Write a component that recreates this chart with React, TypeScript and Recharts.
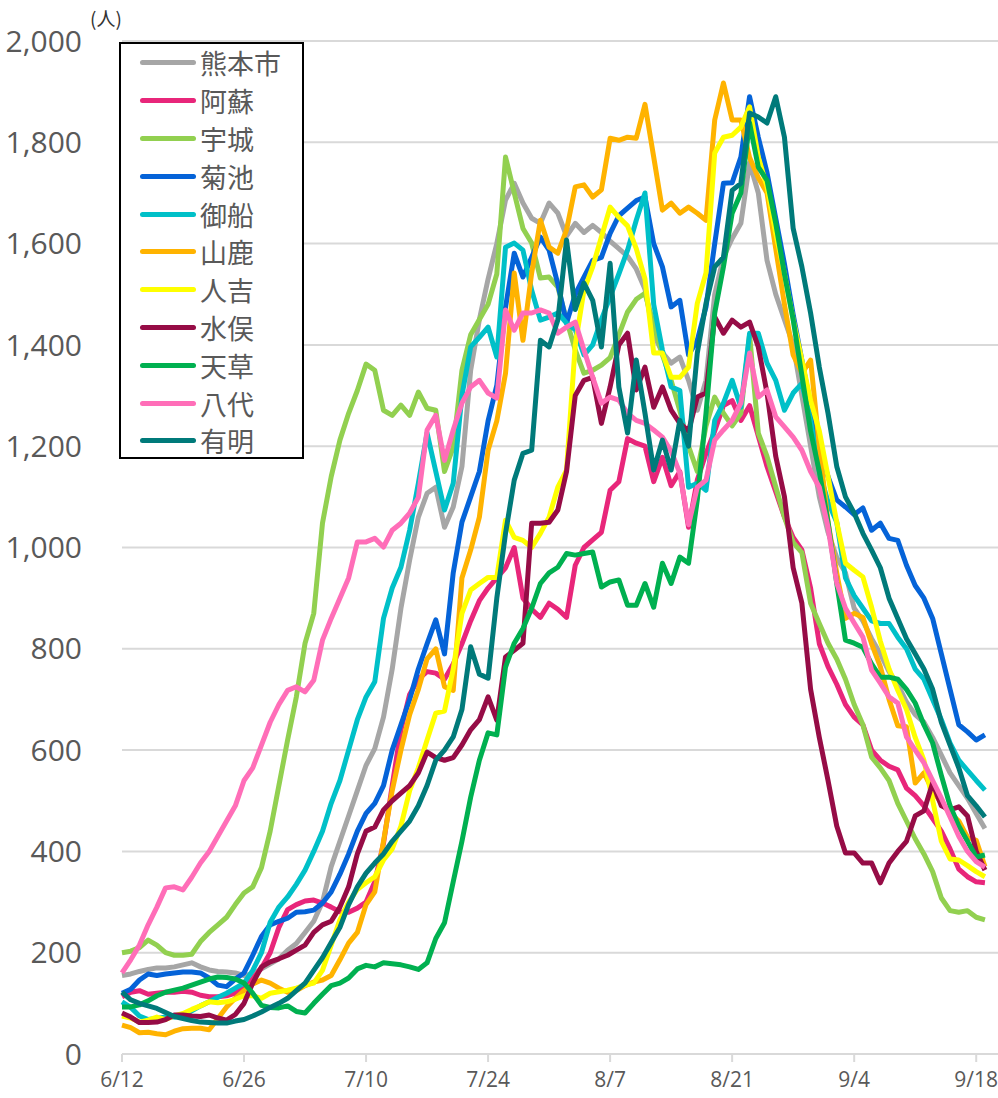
import React from 'react';
import { LineChart, Line, XAxis, YAxis, CartesianGrid } from 'recharts';

// 6/12 .. 9/19, one value per day (index 0 = 6/12)
const tickDays = [0, 14, 28, 42, 56, 70, 84, 98];
const tickLabels = ['6/12', '6/26', '7/10', '7/24', '8/7', '8/21', '9/4', '9/18'];
const yTicks = [0, 200, 400, 600, 800, 1000, 1200, 1400, 1600, 1800, 2000];

const kumamoto = [155, 158, 163, 167, 170, 170, 172, 176, 180, 172, 166, 163, 162, 160, 155, 158, 168, 178, 188, 205, 218, 240, 262, 300, 370, 420, 470, 520, 570, 603, 665, 760, 880, 975, 1060, 1107, 1119, 1040, 1080, 1160, 1350, 1450, 1530, 1600, 1686, 1719, 1680, 1650, 1640, 1680, 1660, 1615, 1640, 1622, 1636, 1622, 1605, 1590, 1575, 1550, 1510, 1420, 1385, 1364, 1376, 1330, 1271, 1330, 1500, 1573, 1610, 1640, 1760, 1700, 1567, 1500, 1450, 1400, 1300, 1200, 1100, 1030, 980, 950, 880, 855, 820, 790, 755, 730, 695, 670, 655, 625, 590, 555, 530, 505, 475, 445];
const aso = [113, 122, 125, 118, 120, 122, 122, 124, 122, 116, 113, 113, 115, 120, 130, 148, 170, 200, 250, 285, 295, 302, 304, 298, 290, 281, 280, 288, 300, 340, 416, 530, 640, 710, 740, 755, 752, 740, 770, 810, 855, 895, 920, 940, 960, 1000, 900, 878, 862, 890, 878, 862, 965, 1000, 1015, 1030, 1113, 1130, 1215, 1206, 1200, 1130, 1178, 1122, 1150, 1040, 1133, 1186, 1230, 1280, 1290, 1251, 1280, 1220, 1160, 1110, 1060, 1020, 995, 920, 810, 765, 730, 690, 665, 650, 600, 580, 568, 561, 525, 510, 490, 465, 440, 405, 365, 350, 340, 338];
const uki = [200, 203, 210, 225, 215, 200, 195, 195, 197, 222, 240, 255, 270, 295, 318, 330, 368, 440, 530, 620, 705, 811, 870, 1048, 1140, 1212, 1265, 1310, 1362, 1350, 1271, 1261, 1281, 1261, 1307, 1275, 1271, 1150, 1198, 1350, 1420, 1450, 1480, 1540, 1771, 1700, 1630, 1601, 1532, 1534, 1514, 1449, 1390, 1344, 1350, 1360, 1375, 1420, 1465, 1490, 1502, 1440, 1380, 1330, 1270, 1200, 1150, 1240, 1297, 1265, 1240, 1265, 1420, 1226, 1180, 1120, 1060, 1010, 990, 890, 850, 811, 780, 740, 690, 650, 586, 565, 540, 495, 460, 425, 395, 360, 308, 283, 280, 283, 270, 265];
const kikuchi = [120, 128, 146, 158, 155, 158, 160, 162, 162, 160, 150, 136, 133, 148, 160, 195, 232, 255, 262, 268, 280, 281, 284, 298, 320, 355, 395, 440, 475, 495, 530, 600, 650, 700, 760, 810, 857, 790, 950, 1050, 1100, 1150, 1250, 1320, 1474, 1581, 1534, 1573, 1613, 1587, 1520, 1443, 1500, 1534, 1567, 1573, 1620, 1655, 1670, 1685, 1692, 1600, 1554, 1475, 1488, 1380, 1409, 1475, 1600, 1719, 1720, 1771, 1890, 1810, 1740, 1650, 1560, 1460, 1370, 1280, 1200, 1140, 1094, 1080, 1065, 1078, 1034, 1048, 1018, 1014, 965, 925, 900, 860, 790, 720, 650, 636, 620, 630];
const mifune = [103, 92, 75, 68, 70, 73, 73, 78, 85, 95, 103, 112, 120, 130, 140, 165, 200, 260, 290, 310, 335, 363, 400, 440, 495, 540, 600, 660, 705, 735, 860, 920, 961, 1034, 1127, 1226, 1150, 1074, 1127, 1300, 1396, 1415, 1435, 1376, 1593, 1601, 1587, 1508, 1449, 1455, 1463, 1443, 1430, 1380, 1400, 1450, 1495, 1540, 1587, 1646, 1700, 1480, 1390, 1317, 1310, 1119, 1127, 1113, 1251, 1285, 1330, 1277, 1423, 1423, 1364, 1330, 1271, 1305, 1324, 1250, 1150, 1090, 1050, 940, 905, 880, 855, 850, 850, 823, 800, 760, 740, 700, 660, 614, 580, 560, 540, 521];
const yamaga = [57, 52, 42, 43, 40, 38, 45, 50, 51, 51, 48, 70, 93, 110, 125, 138, 146, 140, 130, 122, 125, 135, 142, 146, 155, 186, 219, 240, 295, 320, 420, 520, 600, 670, 720, 780, 800, 725, 718, 940, 995, 1060, 1192, 1250, 1344, 1542, 1409, 1542, 1646, 1593, 1581, 1627, 1712, 1716, 1692, 1706, 1808, 1804, 1810, 1808, 1875, 1771, 1666, 1680, 1660, 1672, 1660, 1646, 1844, 1917, 1844, 1844, 1770, 1730, 1700, 1590, 1480, 1380, 1344, 1370, 1200, 1050, 950, 860, 870, 862, 810, 765, 700, 648, 646, 535, 555, 520, 495, 476, 460, 428, 422, 370];
const hitoyoshi = [75, 71, 63, 67, 73, 68, 75, 80, 88, 95, 103, 101, 103, 108, 115, 115, 110, 120, 123, 126, 130, 136, 140, 165, 215, 265, 300, 325, 338, 350, 383, 405, 450, 520, 565, 620, 673, 677, 760, 870, 916, 929, 941, 941, 1054, 1020, 1014, 1000, 1028, 1060, 1119, 1153, 1400, 1508, 1554, 1613, 1672, 1652, 1635, 1590, 1530, 1384, 1384, 1336, 1336, 1356, 1482, 1542, 1779, 1810, 1814, 1830, 1870, 1771, 1712, 1620, 1540, 1450, 1370, 1290, 1230, 1140, 1050, 969, 955, 942, 882, 815, 760, 718, 680, 625, 580, 501, 420, 385, 383, 372, 360, 350];
const minamata = [81, 73, 62, 62, 63, 68, 77, 77, 75, 74, 77, 71, 67, 78, 100, 140, 172, 182, 188, 195, 205, 215, 240, 255, 262, 290, 330, 395, 440, 448, 482, 500, 515, 530, 555, 596, 585, 580, 585, 610, 640, 660, 705, 659, 784, 797, 811, 1048, 1048, 1050, 1074, 1150, 1300, 1330, 1336, 1245, 1317, 1400, 1423, 1311, 1356, 1277, 1317, 1271, 1245, 1230, 1297, 1305, 1455, 1423, 1449, 1435, 1445, 1396, 1305, 1180, 1100, 960, 890, 720, 625, 540, 450, 397, 397, 377, 377, 338, 377, 400, 420, 470, 480, 535, 490, 482, 488, 470, 400, 363];
const amakusa = [93, 93, 97, 105, 115, 122, 126, 130, 136, 142, 148, 152, 151, 148, 140, 120, 96, 92, 91, 95, 84, 81, 100, 118, 135, 140, 150, 168, 175, 172, 180, 178, 176, 172, 167, 180, 228, 259, 340, 420, 507, 580, 634, 630, 764, 811, 840, 880, 929, 950, 961, 988, 985, 988, 991, 922, 932, 936, 886, 886, 929, 882, 969, 929, 981, 969, 1094, 1265, 1463, 1554, 1660, 1700, 1838, 1751, 1725, 1640, 1540, 1450, 1340, 1230, 1150, 1050, 929, 817, 811, 803, 770, 744, 744, 740, 720, 693, 650, 614, 550, 490, 450, 420, 389, 393];
const yatsushiro = [160, 186, 215, 255, 290, 328, 330, 324, 349, 377, 400, 430, 460, 490, 540, 565, 610, 655, 690, 718, 725, 715, 738, 817, 860, 900, 940, 1011, 1011, 1018, 1001, 1034, 1048, 1068, 1099, 1232, 1261, 1172, 1232, 1285, 1317, 1330, 1305, 1295, 1469, 1429, 1463, 1463, 1469, 1463, 1423, 1435, 1445, 1390, 1336, 1285, 1297, 1291, 1265, 1251, 1245, 1232, 1218, 1190, 1147, 1045, 1119, 1133, 1212, 1232, 1251, 1285, 1384, 1297, 1311, 1258, 1238, 1218, 1192, 1150, 1119, 1040, 930, 880, 851, 823, 758, 732, 705, 693, 626, 600, 575, 540, 505, 468, 430, 400, 380, 369];
const ariake = [122, 107, 100, 95, 90, 82, 74, 70, 66, 63, 62, 61, 61, 65, 68, 75, 83, 92, 100, 110, 125, 140, 165, 190, 220, 250, 295, 330, 357, 377, 395, 420, 440, 460, 490, 530, 580, 600, 626, 680, 804, 750, 742, 900, 1028, 1133, 1186, 1192, 1409, 1396, 1449, 1607, 1470, 1522, 1488, 1396, 1561, 1317, 1226, 1370, 1265, 1153, 1212, 1153, 1251, 1200, 1384, 1482, 1554, 1573, 1705, 1719, 1858, 1850, 1838, 1890, 1810, 1630, 1554, 1463, 1356, 1265, 1160, 1100, 1068, 1028, 995, 960, 900, 860, 820, 790, 760, 720, 655, 610, 565, 510, 490, 468];

const series = [
  { key: 'kumamoto', name: '熊本市', color: '#a6a6a6', values: kumamoto },
  { key: 'aso', name: '阿蘇', color: '#e8267a', values: aso },
  { key: 'uki', name: '宇城', color: '#92d050', values: uki },
  { key: 'kikuchi', name: '菊池', color: '#0563d8', values: kikuchi },
  { key: 'mifune', name: '御船', color: '#00c0c8', values: mifune },
  { key: 'yamaga', name: '山鹿', color: '#ffb300', values: yamaga },
  { key: 'hitoyoshi', name: '人吉', color: '#ffff00', values: hitoyoshi },
  { key: 'minamata', name: '水俣', color: '#960c46', values: minamata },
  { key: 'amakusa', name: '天草', color: '#00b050', values: amakusa },
  { key: 'yatsushiro', name: '八代', color: '#ff6eb8', values: yatsushiro },
  { key: 'ariake', name: '有明', color: '#007a7a', values: ariake },
];

const data = kumamoto.map((_, i) => {
  const row: Record<string, number> = { d: i };
  series.forEach((s) => { row[s.key] = s.values[i]; });
  return row;
});

const cjk = '"Noto Sans CJK JP", "Open Sans", sans-serif';
const num = '"Open Sans", "Noto Sans", sans-serif';

const LegendBox = () => (
  <div style={{
    position: 'absolute', left: 119, top: 42, width: 181, height: 413,
    border: '2px solid #000', background: '#fff', fontFamily: cjk,
  }}>
    {series.map((s) => (
      <div key={s.key} style={{ display: 'flex', alignItems: 'center', height: 37.8 }}>
        <div style={{ marginLeft: 19, width: 56, height: 5, borderRadius: 3, background: s.color }} />
        <span style={{ marginLeft: 4, fontSize: 27, color: '#595959', lineHeight: 1 }}>{s.name}</span>
      </div>
    ))}
  </div>
);

export default function App() {
  return (
    <div style={{ position: 'absolute', left: 0, top: 0, width: 998, height: 1098, background: '#fff', fontFamily: cjk }}>
      <LineChart width={998} height={1098} data={data} margin={{ top: 41, right: 0, left: 0, bottom: 0 }}>
        <CartesianGrid horizontal vertical={false} stroke="#d9d9d9" strokeWidth={2} />
        <XAxis
          dataKey="d"
          type="number"
          domain={[0, 100.5]}
          ticks={tickDays}
          tickFormatter={(v: number) => tickLabels[tickDays.indexOf(v)]}
          height={44}
          axisLine={{ stroke: '#d9d9d9', strokeWidth: 2 }}
          tickLine={{ stroke: '#d9d9d9', strokeWidth: 2 }}
          tickSize={8}
          tickMargin={10}
          tick={{ fill: '#595959', fontSize: 21, fontFamily: num }}
        />
        <YAxis
          domain={[0, 2000]}
          ticks={yTicks}
          width={122}
          axisLine={false}
          tickLine={false}
          tickSize={0}
          tickMargin={40}
          tickFormatter={(v: number) => v.toLocaleString('en-US')}
          tick={{ fill: '#595959', fontSize: 30, fontFamily: num }}
        />
        {series.map((s) => (
          <Line
            key={s.key}
            dataKey={s.key}
            name={s.name}
            stroke={s.color}
            strokeWidth={5}
            dot={false}
            type="linear"
            strokeLinejoin="round"
            isAnimationActive={false}
          />
        ))}
      </LineChart>
      <div style={{ position: 'absolute', left: 90, top: 4, fontSize: 19, color: '#333' }}>(人)</div>
      <LegendBox />
    </div>
  );
}
